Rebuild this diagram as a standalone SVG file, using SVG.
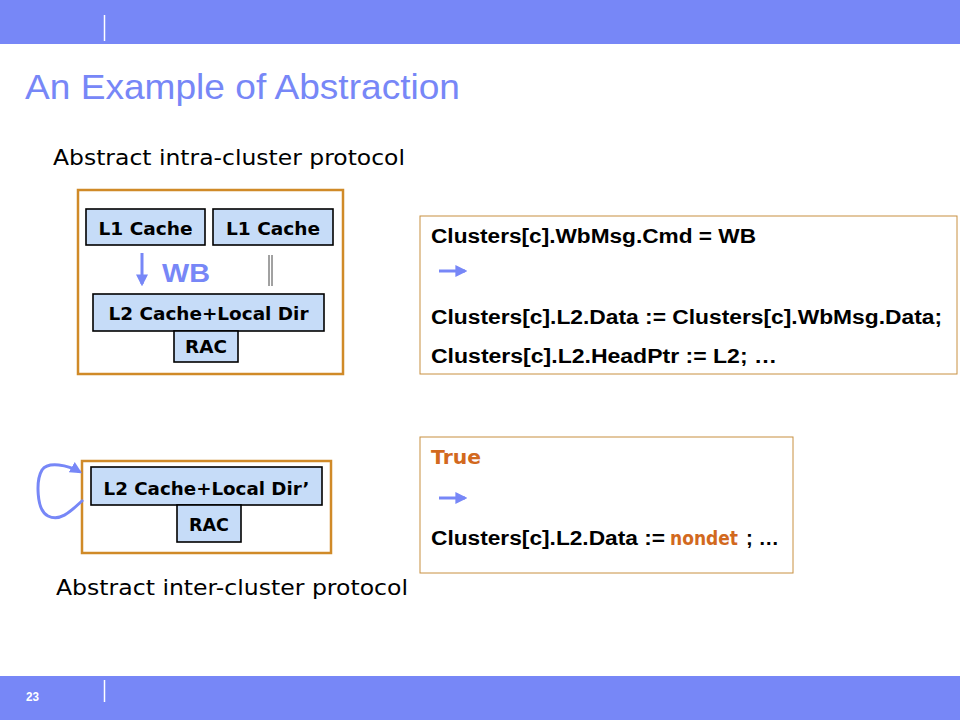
<svg xmlns="http://www.w3.org/2000/svg" width="960" height="720" viewBox="0 0 960 720">
<style>
.bar{fill:#7787f7}
.sep{stroke:#ffffff;stroke-width:1.5}
.title{font-family:"Liberation Sans",Arial,sans-serif;font-size:35px;fill:#7787f7}
.cap{font-family:"DejaVu Sans",sans-serif;font-size:21px;fill:#000}
.frame{fill:none;stroke:#d08a28;stroke-width:2.5}
.code{fill:#fff;stroke:#c89040;stroke-width:1}
.blk{fill:#c6dcf8;stroke:#000;stroke-width:1.6}
.lbl{font-family:"DejaVu Sans",sans-serif;font-weight:bold;font-size:18px;fill:#000;text-anchor:middle}
.ct{font-family:"Liberation Sans",Arial,sans-serif;font-weight:bold;font-size:20px;fill:#000}
.or{font-family:"DejaVu Sans",sans-serif;font-weight:bold;font-size:20px;fill:#d2691e}
.arr{stroke:#7787f7;stroke-width:3;fill:none}
</style>
<defs>
<marker id="ah" viewBox="0 0 10 10" refX="8" refY="5" markerWidth="4" markerHeight="4" orient="auto" markerUnits="strokeWidth">
<path d="M0,0 L10,5 L0,10 z" fill="#7787f7"/>
</marker>
</defs>
<rect class="bar" x="0" y="0" width="960" height="44"/>
<line class="sep" x1="104.5" y1="15" x2="104.5" y2="41"/>
<rect class="bar" x="0" y="676" width="960" height="44"/>
<line class="sep" x1="104.5" y1="680" x2="104.5" y2="702"/>
<text x="26" y="701" font-family="Liberation Sans,Arial,sans-serif" font-size="12" font-weight="bold" fill="#fff" textLength="13" lengthAdjust="spacingAndGlyphs">23</text>
<text class="title" x="25" y="99" textLength="435" lengthAdjust="spacingAndGlyphs">An Example  of Abstraction</text>
<text class="cap" x="53" y="165" textLength="352" lengthAdjust="spacingAndGlyphs">Abstract intra-cluster protocol</text>
<text class="cap" x="56" y="595" textLength="352" lengthAdjust="spacingAndGlyphs">Abstract inter-cluster protocol</text>
<g id="intra-cluster">
<rect class="frame" x="78" y="190" width="265" height="184"/>
</g>
<g id="l1-cache-a">
<rect class="blk" x="86" y="209" width="119" height="36"/>
<text class="lbl" x="145.5" y="235" textLength="94" lengthAdjust="spacingAndGlyphs">L1 Cache</text>
</g>
<g id="l1-cache-b">
<rect class="blk" x="213" y="209" width="120" height="36"/>
<text class="lbl" x="273" y="235" textLength="94" lengthAdjust="spacingAndGlyphs">L1 Cache</text>
</g>
<g id="l2-cache">
<rect class="blk" x="93" y="294" width="231" height="37"/>
<text class="lbl" x="208.5" y="320" textLength="200" lengthAdjust="spacingAndGlyphs">L2 Cache+Local Dir</text>
</g>
<g id="rac">
<rect class="blk" x="174" y="331" width="64" height="31"/>
<text class="lbl" x="206" y="353" textLength="42" lengthAdjust="spacingAndGlyphs">RAC</text>
</g>
<g id="inter-cluster">
<rect class="frame" x="82" y="461" width="249" height="92"/>
</g>
<g id="l2-cache-abs">
<rect class="blk" x="91" y="467" width="231" height="38"/>
<text class="lbl" x="206.5" y="495" textLength="206" lengthAdjust="spacingAndGlyphs">L2 Cache+Local Dir’</text>
</g>
<g id="rac-abs">
<rect class="blk" x="177" y="505" width="64" height="37"/>
<text class="lbl" x="209" y="531" textLength="40" lengthAdjust="spacingAndGlyphs">RAC</text>
</g>
<g id="connectors">
<line class="arr" x1="142" y1="253" x2="142" y2="284" marker-end="url(#ah)"/>
<text x="162" y="282" font-family="Liberation Sans,Arial,sans-serif" font-size="26" font-weight="bold" fill="#7787f7" textLength="48" lengthAdjust="spacingAndGlyphs">WB</text>
<line x1="269" y1="255" x2="269" y2="286" stroke="#444" stroke-width="1"/>
<line x1="272" y1="255" x2="272" y2="286" stroke="#444" stroke-width="1"/>
<path class="arr" d="M83,500 C70,512 60,522 48,516 C36,510 36,480 42,470 C48,461 68,465 80,472" marker-end="url(#ah)"/>
</g>
<g id="rule-concrete">
<rect class="code" x="420" y="216" width="537" height="158"/>
<text class="ct" x="431" y="243" textLength="325" lengthAdjust="spacingAndGlyphs">Clusters[c].WbMsg.Cmd = WB</text>
<line class="arr" x1="439" y1="271" x2="465" y2="271" marker-end="url(#ah)"/>
<text class="ct" x="431" y="324" textLength="511" lengthAdjust="spacingAndGlyphs">Clusters[c].L2.Data := Clusters[c].WbMsg.Data;</text>
<text class="ct" x="431" y="363" textLength="346" lengthAdjust="spacingAndGlyphs">Clusters[c].L2.HeadPtr := L2;  …</text>
</g>
<g id="rule-abstract">
<rect class="code" x="420" y="437" width="373" height="136"/>
<text class="or" x="431" y="464" textLength="50" lengthAdjust="spacingAndGlyphs">True</text>
<line class="arr" x1="439" y1="498" x2="465" y2="498" marker-end="url(#ah)"/>
<text class="ct" y="545"><tspan x="431" textLength="234" lengthAdjust="spacingAndGlyphs">Clusters[c].L2.Data :=</tspan><tspan class="or" x="670" textLength="68" lengthAdjust="spacingAndGlyphs">nondet</tspan><tspan x="746" textLength="33" lengthAdjust="spacingAndGlyphs">; …</tspan></text>
</g>
</svg>
